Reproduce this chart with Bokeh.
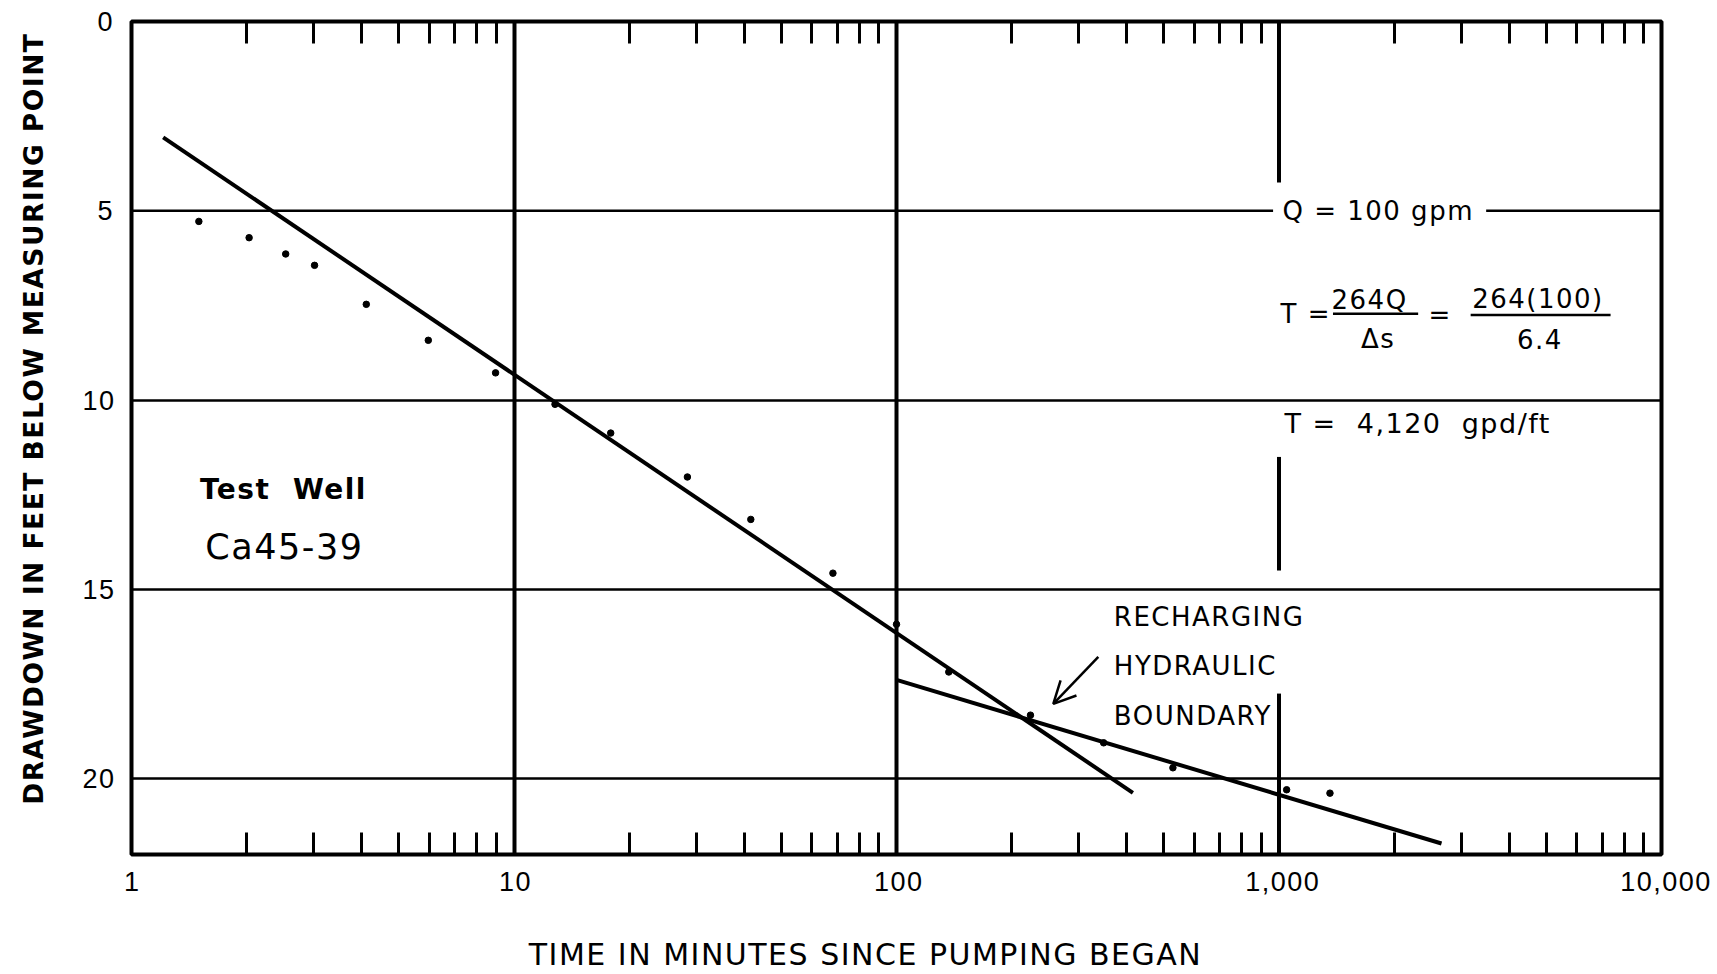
from bokeh.plotting import figure
from bokeh.models import (Range1d, FixedTicker, NumeralTickFormatter, LogAxis, Label,
                          Arrow, OpenHead, Grid, CustomJSTickFormatter)
from bokeh.embed import file_html
from bokeh.resources import INLINE

# ---------------- data ----------------
time_min = [1.5, 2.03, 2.53, 3.01, 4.11, 5.97, 8.95, 12.8, 17.9, 28.4,
            41.6, 68.2, 100, 137, 224, 348, 528, 1047, 1359]
drawdown_ft = [5.28, 5.71, 6.14, 6.44, 7.47, 8.42, 9.28, 10.11, 10.87, 12.03,
               13.15, 14.57, 15.92, 17.18, 18.32, 19.05, 19.71, 20.29, 20.38]

# straight-line fits (end points)
fit1_t = [1.21, 415]
fit1_s = [3.06, 20.37]
fit2_t = [100, 2660]
fit2_s = [17.39, 21.71]

x_tick_values = [1, 10, 100, 1000, 10000]
x_minor_values = [m * d for d in (1, 10, 100, 1000) for m in range(2, 10)]
y_tick_values = [0, 5, 10, 15, 20]

x_title = "TIME IN MINUTES SINCE PUMPING BEGAN"
y_title = "DRAWDOWN IN FEET BELOW MEASURING POINT"

# ---------------- layout constants ----------------
FONT = "DejaVu Sans"
TICK_FONT = "Liberation Sans"
BLACK = "black"
NBSP = "\u00a0"

p = figure(width=1717, height=974, x_axis_type="log",
           x_range=Range1d(1, 10000), y_range=Range1d(22, 0),
           output_backend="svg", toolbar_location=None,
           min_border_left=131, min_border_right=56,
           min_border_top=21, min_border_bottom=119)
# hand-lettered look: widely spaced letters
p.styles = {"letter-spacing": "1.5px"}

p.background_fill_color = "white"
p.border_fill_color = "white"
p.outline_line_color = BLACK
p.outline_line_width = 4
p.outline_line_alpha = 1.0

for g in p.grid:
    g.grid_line_color = None

# bottom axis
xa = p.xaxis[0]
xa.ticker = FixedTicker(ticks=x_tick_values, minor_ticks=x_minor_values)
xa.formatter = NumeralTickFormatter(format="0,0")
xa.axis_line_color = None
xa.major_tick_in = 0
xa.major_tick_out = 0
xa.minor_tick_in = 22
xa.minor_tick_out = 0
xa.minor_tick_line_width = 3
xa.minor_tick_line_color = BLACK
xa.major_label_standoff = 17
xa.major_label_text_font = TICK_FONT
xa.major_label_text_font_size = "27px"
xa.major_label_text_color = BLACK
# trailing no-break spaces shift the centred title left, as in the original
xa.axis_label = x_title + NBSP * 12
xa.axis_label_standoff = 43
xa.axis_label_text_font = FONT
xa.axis_label_text_font_size = "30px"
xa.axis_label_text_font_style = "normal"
xa.axis_label_text_color = BLACK

# top axis (minor ticks only)
ta = LogAxis(ticker=FixedTicker(ticks=x_tick_values, minor_ticks=x_minor_values),
             formatter=CustomJSTickFormatter(code="return ''"))
ta.axis_line_color = None
ta.major_tick_in = 0
ta.major_tick_out = 0
ta.minor_tick_in = 22
ta.minor_tick_out = 0
ta.minor_tick_line_width = 3
ta.minor_tick_line_color = BLACK
ta.major_label_text_font_size = "10px"
ta.major_label_text_color = None
ta.major_label_standoff = 0
p.add_layout(ta, "above")

# left axis
ya = p.yaxis[0]
ya.ticker = FixedTicker(ticks=y_tick_values)
ya.axis_line_color = None
ya.major_tick_in = 0
ya.major_tick_out = 0
ya.minor_tick_line_color = None
ya.major_label_standoff = 19
ya.major_label_text_font = TICK_FONT
ya.major_label_text_font_size = "27px"
ya.major_label_text_color = BLACK
ya.axis_label = y_title + NBSP * 2
ya.axis_label_standoff = 30
ya.axis_label_text_font = FONT
ya.axis_label_text_font_size = "26.5px"
ya.axis_label_text_font_style = "bold"
ya.axis_label_text_color = BLACK

# grid lines (continuous ones)
p.add_layout(Grid(dimension=0, ticker=FixedTicker(ticks=[10, 100]),
                  grid_line_color=BLACK, grid_line_width=4))
p.add_layout(Grid(dimension=1, ticker=FixedTicker(ticks=[10, 15, 20]),
                  grid_line_color=BLACK, grid_line_width=2.5))

# broken grid lines (gaps left for the lettering)
v1000_from = [0, 11.5, 17.75]
v1000_to = [4.25, 14.5, 22]
p.segment(x0=[1000] * 3, y0=v1000_from, x1=[1000] * 3, y1=v1000_to,
          line_color=BLACK, line_width=4)
h5_from = [1, 3480]
h5_to = [965, 10000]
p.segment(x0=h5_from, y0=[5, 5], x1=h5_to, y1=[5, 5],
          line_color=BLACK, line_width=2.5)

# fitted lines
p.line(fit1_t, fit1_s, line_color=BLACK, line_width=4)
p.line(fit2_t, fit2_s, line_color=BLACK, line_width=4)

# observations
p.scatter(time_min, drawdown_ft, size=6.5, color=BLACK)


def add_text(x, y, text, size, align="left", style="normal"):
    p.add_layout(Label(x=x, y=y, text=text, text_font=FONT,
                       text_font_size=f"{size}px", text_align=align,
                       text_baseline="middle", text_color=BLACK,
                       text_font_style=style))


add_text(1.51, 12.36, "Test" + NBSP + " Well", 28, style="bold")
add_text(1.56, 13.89, "Ca45-39", 35)

add_text(1021, 5.0, "Q = 100 gpm", 26)
add_text(1009, 7.72, "T =", 26)
add_text(1694, 7.36, "264Q", 26, align="center")
add_text(1799, 8.38, "Δs", 26, align="center")
add_text(2628, 7.76, "=", 26, align="center")
add_text(4584, 7.34, "264(100)", 26, align="center")
add_text(4742, 8.38, "6.4", 26, align="center")
p.segment(x0=[1384, 3170], y0=[7.72, 7.75], x1=[2311, 7360], y1=[7.72, 7.75],
          line_color=BLACK, line_width=2.5)
add_text(1033, 10.63, "T =" + NBSP + " 4,120" + NBSP + " gpd/ft", 27)

add_text(370, 15.74, "RECHARGING", 26)
add_text(370, 17.01, "HYDRAULIC", 26)
add_text(370, 18.34, "BOUNDARY", 26)
p.add_layout(Arrow(end=OpenHead(size=22, line_width=2.5, line_color=BLACK),
                   x_start=337, y_start=16.78, x_end=257, y_end=18.02,
                   line_width=2.5, line_color=BLACK))

open("out.html", "w").write(file_html(p, INLINE))
